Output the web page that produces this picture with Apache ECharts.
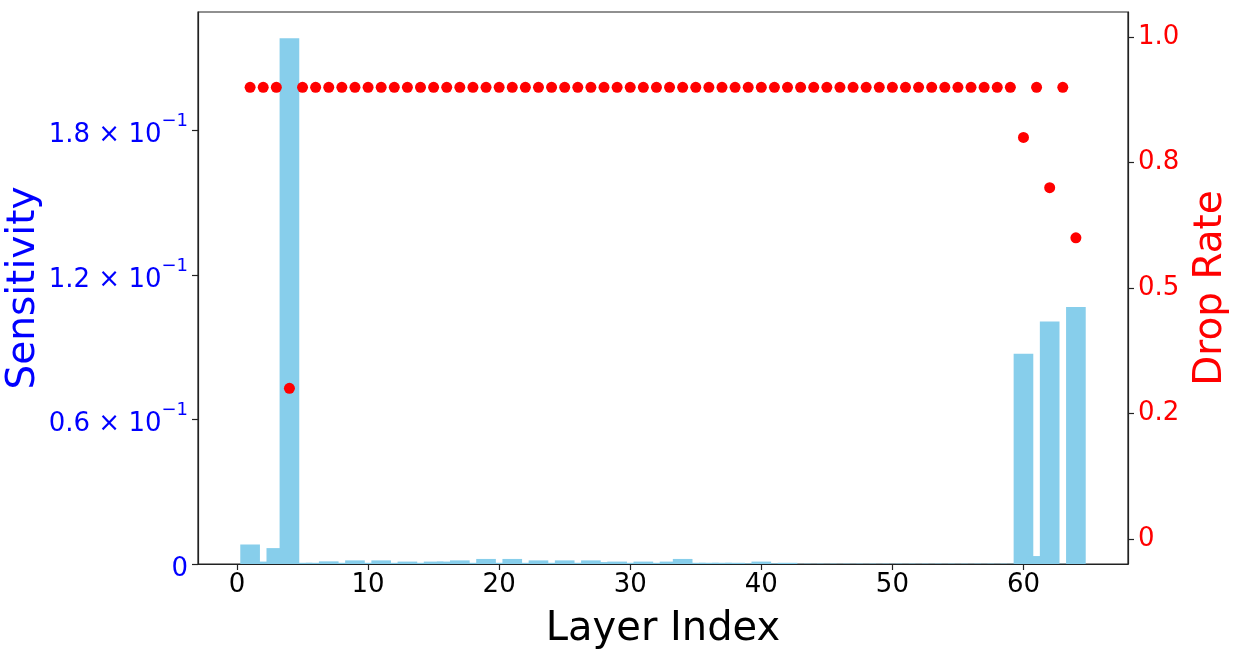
<!DOCTYPE html>
<html>
<head>
<meta charset="utf-8">
<script src="https://cdn.jsdelivr.net/npm/echarts@6/dist/echarts.min.js"></script>
<style>
html,body{margin:0;padding:0;background:#fff;}
#chart{width:1235px;height:659px;}
</style>
</head>
<body>
<div id="chart"></div>
<script>
const layers = [1,2,3,4,5,6,7,8,9,10,11,12,13,14,15,16,17,18,19,20,21,22,23,24,25,26,27,28,29,30,31,32,
  33,34,35,36,37,38,39,40,41,42,43,44,45,46,47,48,49,50,51,52,53,54,55,56,57,58,59,60,61,62,63,64];
const sensitivity = [
  0.0081,0.0010,0.0066,0.2183,0.0005,0.0005,0.0011,0.0005,0.0015,0.0005,0.0015,0.0005,0.0010,0.0005,0.0010,0.0010,
  0.0015,0.0005,0.0021,0.0005,0.0021,0.0005,0.0015,0.0005,0.0015,0.0005,0.0015,0.0008,0.0010,0.0005,0.0010,0.0005,
  0.0010,0.0021,0.0005,0.0005,0.0005,0.0005,0.0003,0.0010,0.0003,0.0005,0.0001,0.0001,0.0001,0.0001,0.0001,0.0001,
  0.0001,0.0001,0.0001,0.0001,0.0001,0.0001,0.0001,0.0001,0.0001,0.0001,0.0001,0.0873,0.0033,0.1007,0.0001,0.1067];
const dropRate = [
  0.9,0.9,0.9,0.3,0.9,0.9,0.9,0.9,0.9,0.9,0.9,0.9,0.9,0.9,0.9,0.9,
  0.9,0.9,0.9,0.9,0.9,0.9,0.9,0.9,0.9,0.9,0.9,0.9,0.9,0.9,0.9,0.9,
  0.9,0.9,0.9,0.9,0.9,0.9,0.9,0.9,0.9,0.9,0.9,0.9,0.9,0.9,0.9,0.9,
  0.9,0.9,0.9,0.9,0.9,0.9,0.9,0.9,0.9,0.9,0.9,0.8,0.9,0.7,0.9,0.6];
const xTickValues = [0,10,20,30,40,50,60];
const leftTickValues = [0,0.06,0.12,0.18];
const leftTickLabels = ['0','0.6','1.2','1.8'];
const rightTickValues = [0,0.25,0.5,0.75,1.0];
const rightTickLabels = ['0','0.2','0.5','0.8','1.0'];

const FONT = 'DejaVu Sans';
const BAR_HALF = 0.75;
const chart = echarts.init(document.getElementById('chart'), null, {renderer:'canvas'});
const axisLineStyle = {color:'#222', width:1.2};

chart.setOption({
  animation:false,
  backgroundColor:'#fff',
  grid:{left:198, top:12, width:930, height:552, outerBoundsMode:'none', containLabel:false,
    show:true, borderColor:'#222', borderWidth:1.2, backgroundColor:'transparent'},
  xAxis:{
    type:'value', min:-2.975, max:67.975,
    name:'Layer Index', nameLocation:'middle', nameGap:46, nameMoveOverlap:false,
    nameTextStyle:{fontFamily:FONT, fontSize:40, color:'#000'},
    axisLine:{show:true, onZero:false, lineStyle:axisLineStyle},
    axisTick:{show:true, length:6, lineStyle:axisLineStyle, customValues:xTickValues},
    axisLabel:{fontFamily:FONT, fontSize:26, color:'#000', margin:8, customValues:xTickValues},
    splitLine:{show:false}
  },
  yAxis:[{
    type:'value', position:'left', min:0, max:0.2292,
    name:'Sensitivity', nameLocation:'middle', nameGap:155, nameRotate:90, nameMoveOverlap:false,
    nameTextStyle:{fontFamily:FONT, fontSize:39, color:'#0000ff'},
    axisLine:{show:true, onZero:false, lineStyle:axisLineStyle},
    axisTick:{show:true, length:6, lineStyle:axisLineStyle, customValues:leftTickValues},
    axisLabel:{
      customValues:leftTickValues, margin:10, color:'#0000ff',
      formatter:function(v){
        let i = leftTickValues.findIndex(t=>Math.abs(t-v)<1e-9);
        if(i<0) return '';
        let lab = leftTickLabels[i];
        if(lab==='0') return '{m|0}';
        return '{m|'+lab+' × 10}{s|−1}';
      },
      rich:{
        m:{fontFamily:FONT, fontSize:26, color:'#0000ff', lineHeight:36, verticalAlign:'bottom'},
        s:{fontFamily:FONT, fontSize:18, color:'#0000ff', lineHeight:20, verticalAlign:'top'}
      }
    },
    splitLine:{show:false}
  },{
    type:'value', position:'right', min:-0.05, max:1.05,
    name:'Drop Rate', nameLocation:'middle', nameGap:63, nameRotate:90, nameMoveOverlap:false,
    nameTextStyle:{fontFamily:FONT, fontSize:39, color:'#ff0000'},
    axisLine:{show:true, onZero:false, lineStyle:axisLineStyle},
    axisTick:{show:true, length:6, lineStyle:axisLineStyle, customValues:rightTickValues},
    axisLabel:{
      customValues:rightTickValues, margin:10, fontFamily:FONT, fontSize:26, color:'#ff0000',
      formatter:function(v){
        let i = rightTickValues.findIndex(t=>Math.abs(t-v)<1e-9);
        return i<0 ? '' : rightTickLabels[i];
      }
    },
    splitLine:{show:false}
  }],
  series:[{
    type:'custom', xAxisIndex:0, yAxisIndex:0, clip:true, z:2,
    encode:{x:0, y:1},
    data: layers.map((l,i)=>[l, sensitivity[i]]),
    renderItem:function(params, api){
      const x = api.value(0), v = api.value(1);
      const p0 = api.coord([x-BAR_HALF, v]);
      const p1 = api.coord([x+BAR_HALF, 0]);
      return {type:'rect', shape:{x:p0[0], y:p0[1], width:p1[0]-p0[0], height:p1[1]-p0[1]},
        style:{fill:'#87CEEB'}};
    }
  },{
    type:'scatter', xAxisIndex:0, yAxisIndex:1, z:5,
    symbol:'circle', symbolSize:11,
    itemStyle:{color:'#ff0000', opacity:1},
    data: layers.map((l,i)=>[l, dropRate[i]])
  }]
});
</script>
</body>
</html>
